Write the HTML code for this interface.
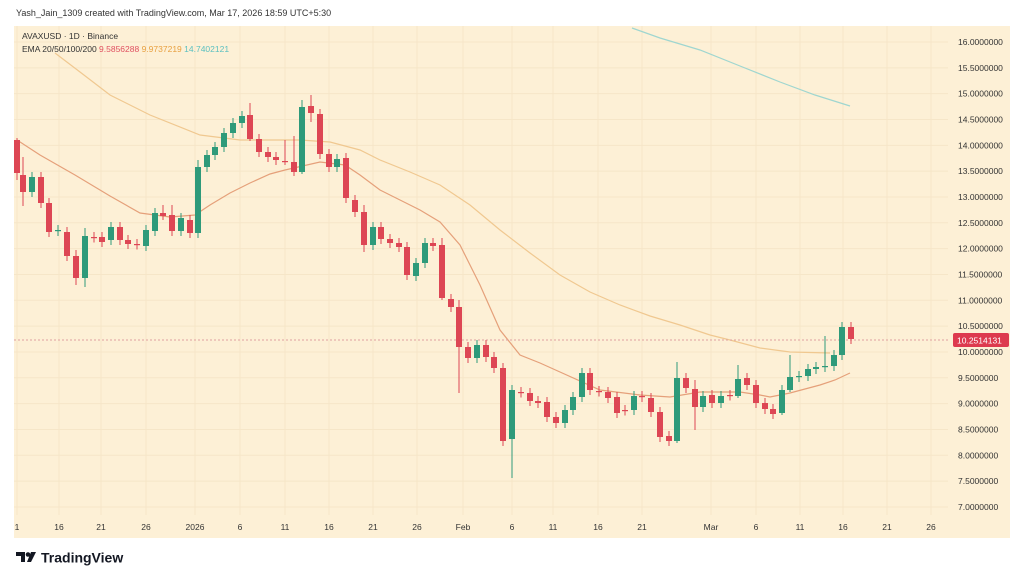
<!DOCTYPE html>
<html><head><meta charset="utf-8"><style>
html,body{margin:0;padding:0;background:#fff;width:1024px;height:580px;overflow:hidden;font-family:"Liberation Sans",sans-serif}
</style></head><body>
<svg id="s" width="1024" height="580" xmlns="http://www.w3.org/2000/svg" font-family="Liberation Sans, sans-serif">
<rect x="0" y="0" width="1024" height="580" fill="#fff"/>
<rect x="14" y="26" width="996" height="512" fill="#fdf0d6"/>
<g id="grid" stroke="#f6e6c8" stroke-width="1"></g>
<text x="16" y="16" font-size="9" fill="#333">Yash_Jain_1309 created with TradingView.com, Mar 17, 2026 18:59 UTC+5:30</text>
<text x="22" y="39" font-size="8.5" fill="#333">AVAXUSD · 1D · Binance</text>
<text x="22" y="52" font-size="8.5" fill="#333">EMA 20/50/100/200 <tspan fill="#e05060">9.5856288</tspan> <tspan fill="#e8a040">9.9737219</tspan> <tspan fill="#5cc0c0">14.7402121</tspan></text>
<g id="ema" fill="none" stroke-width="1.2">
<polyline stroke="#e5a07a" points="17,140 40,155 75,175 110,196 140,213 170,217 195,215 210,205 230,193 250,183 270,174 285,170 320,162 345,165 360,175 380,190 420,210 440,222 460,245 480,285 500,330 520,355 540,363 560,372 600,390 640,395 670,397 700,392 740,392 760,395 770,397 790,393 820,385 835,380 850,373"/>
<polyline stroke="#f0c890" points="55,53 80,72 110,95 150,115 200,135 240,140 300,140 330,142 360,150 380,160 410,172 440,185 470,205 500,230 530,253 560,275 590,292 620,305 650,316 680,325 710,335 730,340 760,348 790,352 830,353"/>
<polyline stroke="#9fd6d0" points="632,28 660,38 700,50 740,66 780,82 815,95 850,106"/>
</g>
<line x1="14" y1="340" x2="948" y2="340" stroke="#e0a0a0" stroke-width="1" stroke-dasharray="2,2"/>
<g id="c"></g>
<g id="ax" font-size="8.5" fill="#333"></g>
<rect x="953" y="333" width="56" height="14" fill="#dd3a4e" rx="2"/>
<text x="957" y="343.5" font-size="8.5" fill="#fff">10.2514131</text>
<g transform="translate(16,552)">
<path d="M0 0 h9 v10 h-4 v-6 h-5z" fill="#131722"/>
<circle cx="12" cy="2.5" r="2.3" fill="#131722"/>
<path d="M15 0 h5 l-5 10 h-4z" fill="#131722"/>
<text x="25" y="10.5" font-size="14" font-weight="bold" fill="#131722">TradingView</text>
</g>
</svg>
<script>
const NS="http://www.w3.org/2000/svg";
function el(p,t,a){const e=document.createElementNS(NS,t);for(const k in a)e.setAttribute(k,a[k]);p.appendChild(e);return e;}
const g=document.getElementById('grid'),ax=document.getElementById('ax'),c=document.getElementById('c');
const xs=[[17,"1"],[59,"16"],[101,"21"],[146,"26"],[195,"2026"],[240,"6"],[285,"11"],[329,"16"],[373,"21"],[417,"26"],[463,"Feb"],[512,"6"],[553,"11"],[598,"16"],[642,"21"],[711,"Mar"],[756,"6"],[800,"11"],[843,"16"],[887,"21"],[931,"26"]];
xs.forEach(([x,t])=>{el(g,'line',{x1:x,y1:26,x2:x,y2:515});const tt=el(ax,'text',{x:x,y:530,'text-anchor':'middle'});tt.textContent=t;});
for(let i=0;i<=18;i++){const p=16-i*0.5;const y=42+i*25.83;el(g,'line',{x1:14,y1:y,x2:948,y2:y});const tt=el(ax,'text',{x:958,y:y+3});tt.textContent=p.toFixed(7);}
const d=[[17,140,173],[23,175,192],[32,192,177],[41,177,203],[49,203,232],[58,231,230],[67,232,256],[76,256,278],[85,278,236],[94,237,237.5],[102,237,242],[111,240,227],[120,227,240],[128,240,244],[137,244,244.5],[146,246,230],[155,231,213],[163,213,216],[172,215,231],[181,231,218],[190,220,233],[198,233,167],[207,167,155],[215,155,147],[224,147,133],[233,133,123],[242,123,116],[250,115,139],[259,139,152],[268,152,157],[276,157,160],[285,161,161.5],[294,162,172],[302,172,107],[311,106,113],[320,114,154],[329,154,167],[337,167,159],[346,158,198],[355,200,212],[364,212,245],[373,245,227],[381,227,239],[390,239,243],[399,243,247],[407,247,275],[416,276,263],[425,263,243],[433,243,246],[442,245,298],[451,299,307],[459,307,347],[468,347,358],[477,358,345],[486,345,357],[494,357,368],[503,368,441],[512,439,390],[521,392,392.5],[530,393,401],[538,401,403],[547,402,417],[556,417,423],[565,423,410],[573,410,397],[582,397,373],[590,373,390],[599,391,391.5],[608,392,398],[617,397,413],[625,410,410.5],[634,410,396],[642,396,397],[651,398,412],[660,412,437],[669,436,441],[677,441,378],[686,378,388],[695,389,407],[703,407,396],[712,395,403],[721,403,396],[730,395,395.5],[738,396,379],[747,378,385],[756,385,403],[765,403,409],[773,409,414],[782,413,390],[790,390,377],[799,377,376],[808,376,369],[816,369,367],[825,367,366],[834,366,355],[842,355,327],[851,327,339]];
const wick={17:[138,180],23:[157,206],76:[250,285],85:[228,287],250:[103,141],302:[100,174],311:[95,122],459:[300,393],512:[385,478],677:[362,443],695:[380,430],782:[385,415],825:[336,372],790:[355,392],738:[365,398],442:[238,300],364:[205,252],198:[160,238],294:[136,176],285:[140,165],172:[205,236],163:[205,220]};
d.forEach(([x,o,cl])=>{const up=cl<o;const col=up?'#2e9a7a':'#dd4654';const top=Math.min(o,cl),bot=Math.max(o,cl);const w=wick[x]||[top-5,bot+5];
el(c,'line',{x1:x,y1:w[0],x2:x,y2:w[1],stroke:col,'stroke-width':1});
el(c,'rect',{x:x-3,y:top,width:6,height:Math.max(1.2,bot-top),fill:col});});
</script>
</body></html>
